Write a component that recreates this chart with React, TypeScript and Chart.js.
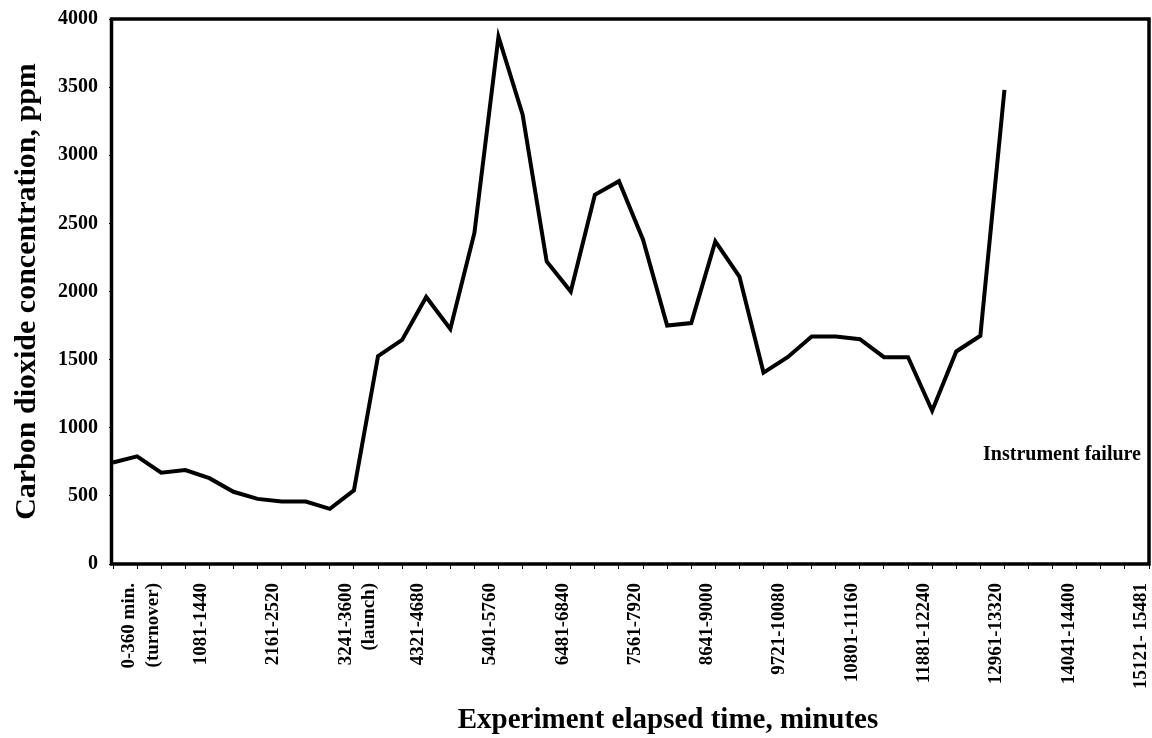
import React, { useEffect, useRef } from "react";
import { Chart, registerables } from "chart.js";

Chart.register(...registerables);

const FONT = '"Liberation Serif", "Times New Roman", serif';

// 360-minute intervals along the x axis (44 category slots)
const categories: string[] = [
  "0-360", "361-720", "721-1080", "1081-1440", "1441-1800", "1801-2160",
  "2161-2520", "2521-2880", "2881-3240", "3241-3600", "3601-3960", "3961-4320",
  "4321-4680", "4681-5040", "5041-5400", "5401-5760", "5761-6120", "6121-6480",
  "6481-6840", "6841-7200", "7201-7560", "7561-7920", "7921-8280", "8281-8640",
  "8641-9000", "9001-9360", "9361-9720", "9721-10080", "10081-10440", "10441-10800",
  "10801-11160", "11161-11520", "11521-11880", "11881-12240", "12241-12600", "12601-12960",
  "12961-13320", "13321-13680", "13681-14040", "14041-14400", "14401-14760", "14761-15120",
  "15121-15481", "15482-15840",
];

// labels shown on every third category
const tickLabels: (string | string[])[] = [
  ["0-360 min.", "(turnover)"],
  "1081-1440",
  "2161-2520",
  ["3241-3600", "(launch)"],
  "4321-4680",
  "5401-5760",
  "6481-6840",
  "7561-7920",
  "8641-9000",
  "9721-10080",
  "10801-11160",
  "11881-12240",
  "12961-13320",
  "14041-14400",
  "15121- 15481",
];

// CO2 concentration, ppm
const co2: number[] = [
  745, 790, 670, 690, 630, 530, 478, 458, 458, 405,
  540, 1525, 1645, 1960, 1725, 2430, 3870, 3300, 2220, 2000,
  2710, 2810, 2380, 1750, 1768, 2368, 2110, 1405, 1518, 1670,
  1670, 1650, 1518, 1518, 1125, 1560, 1675, 3480,
];

const yMin = 0;
const yMax = 4000;
const yStep = 500;

const annotationText = "Instrument failure";
const annotationValue = 800;
const xTitle = "Experiment elapsed time, minutes";
const yTitle = "Carbon dioxide concentration, ppm";

const framePlugin = {
  id: "frame",
  afterDatasetsDraw(chart: any) {
    const { ctx, chartArea: a, scales } = chart;
    ctx.save();
    ctx.strokeStyle = "#000";
    ctx.lineWidth = 3.5;
    ctx.strokeRect(a.left - 1.5, a.top, a.right - a.left + 1.5, a.bottom - a.top);
    ctx.fillStyle = "#000";
    ctx.font = `bold 20px ${FONT}`;
    ctx.textAlign = "right";
    ctx.textBaseline = "middle";
    ctx.fillText(annotationText, a.right - 8, scales.y.getPixelForValue(annotationValue));
    ctx.font = `bold 29px ${FONT}`;
    ctx.textAlign = "center";
    ctx.fillText(xTitle, (a.left + a.right) / 2 + 37, 721);
    ctx.restore();
  },
};

export default function App() {
  const ref = useRef<HTMLCanvasElement | null>(null);

  useEffect(() => {
    if (!ref.current) return;
    const chart = new Chart(ref.current, {
      type: "line",
      data: {
        labels: categories,
        datasets: [
          {
            data: co2,
            borderColor: "#000",
            borderWidth: 4,
            borderJoinStyle: "miter",
            tension: 0,
            pointRadius: 0,
            pointHoverRadius: 0,
            fill: false,
          },
        ],
      },
      options: {
        animation: false,
        responsive: false,
        events: [],
        layout: { padding: { top: 19, right: 3, left: 0, bottom: 0 } },
        plugins: {
          legend: { display: false },
          tooltip: { enabled: false },
        },
        scales: {
          x: {
            type: "category",
            offset: false,
            border: { display: false },
            grid: {
              display: true,
              drawOnChartArea: false,
              drawTicks: true,
              tickLength: 5,
              color: "#000",
              lineWidth: 1,
            },
            ticks: {
              autoSkip: false,
              maxRotation: 90,
              minRotation: 90,
              padding: 14,
              labelOffset: 16,
              color: "#000",
              font: { family: FONT, size: 19, weight: "bold", lineHeight: 1.25 },
              callback: (_v: any, i: number) => (i % 3 === 0 ? tickLabels[i / 3] ?? "" : ""),
            },
            afterFit: (s: any) => {
              s.height = 174;
              s.paddingLeft = 0;
              s.paddingRight = 0;
            },
          },
          y: {
            min: yMin,
            max: yMax,
            border: { display: false },
            grid: {
              drawOnChartArea: false,
              drawTicks: true,
              tickLength: 4,
              color: "#000",
            },
            ticks: {
              stepSize: yStep,
              padding: 11,
              color: "#000",
              font: { family: FONT, size: 20, weight: "bold" },
              callback: (v: any) => String(v),
            },
            title: {
              display: true,
              text: yTitle,
              color: "#000",
              font: { family: FONT, size: 30, weight: "bold" },
              padding: { top: 9, bottom: 0 },
            },
            afterFit: (s: any) => {
              s.width = 113;
              s.paddingTop = 0;
              s.paddingBottom = 0;
            },
          },
        },
      },
      plugins: [framePlugin],
    });
    return () => chart.destroy();
  }, []);

  return (
    <div style={{ position: "fixed", left: 0, top: 0, width: 1152, height: 738, background: "#fff" }}>
      <canvas ref={ref} width={1152} height={738} style={{ display: "block" }} />
    </div>
  );
}
